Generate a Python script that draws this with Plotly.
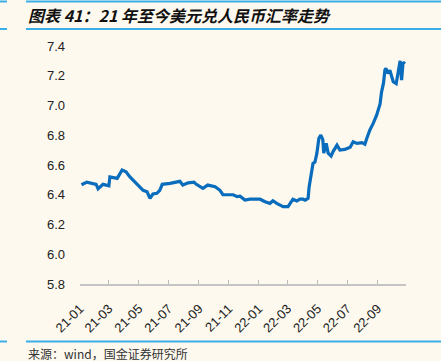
import plotly.graph_objects as go

dates = [
    "2021-01-04", "2021-01-15", "2021-02-03", "2021-02-07", "2021-02-17", "2021-03-01",
    "2021-03-03", "2021-03-18", "2021-03-28", "2021-04-05", "2021-04-13", "2021-04-23",
    "2021-05-04", "2021-05-10", "2021-05-18", "2021-05-24", "2021-05-30", "2021-06-07",
    "2021-06-13", "2021-06-18", "2021-07-04", "2021-07-24", "2021-07-30", "2021-08-10",
    "2021-08-22", "2021-08-26", "2021-09-09", "2021-09-19", "2021-10-04", "2021-10-14",
    "2021-10-20", "2021-10-28", "2021-11-10", "2021-11-18", "2021-11-24", "2021-12-04",
    "2021-12-14", "2021-12-29", "2022-01-04", "2022-01-14", "2022-01-24", "2022-01-30",
    "2022-02-07", "2022-02-20", "2022-03-02", "2022-03-12", "2022-03-20", "2022-03-26",
    "2022-04-02", "2022-04-06", "2022-04-12", "2022-04-14", "2022-04-18", "2022-04-22",
    "2022-04-26", "2022-04-30", "2022-05-04", "2022-05-08", "2022-05-12", "2022-05-14",
    "2022-05-19", "2022-05-23", "2022-05-29", "2022-06-02", "2022-06-10", "2022-06-16",
    "2022-06-26", "2022-07-07", "2022-07-13", "2022-07-21", "2022-07-31", "2022-08-06",
    "2022-08-10", "2022-08-16", "2022-08-23", "2022-08-30", "2022-09-06", "2022-09-09",
    "2022-09-13", "2022-09-16", "2022-09-18", "2022-09-22", "2022-09-26", "2022-10-03",
    "2022-10-09", "2022-10-11", "2022-10-17", "2022-10-20", "2022-10-23", "2022-10-27",
]
usdcny = [
    6.467, 6.485, 6.470, 6.440, 6.470, 6.460,
    6.520, 6.510, 6.566, 6.555, 6.520, 6.487,
    6.454, 6.430, 6.420, 6.376, 6.405, 6.410,
    6.430, 6.470, 6.476, 6.490, 6.465, 6.480,
    6.485, 6.472, 6.443, 6.465, 6.454, 6.430,
    6.400, 6.400, 6.400, 6.387, 6.390, 6.364,
    6.370, 6.370, 6.370, 6.353, 6.342, 6.360,
    6.342, 6.320, 6.320, 6.370, 6.358, 6.370,
    6.370, 6.364, 6.376, 6.450, 6.540, 6.610,
    6.620, 6.680, 6.780, 6.800, 6.770, 6.680,
    6.745, 6.680, 6.660, 6.690, 6.734, 6.700,
    6.705, 6.720, 6.756, 6.745, 6.750, 6.740,
    6.780, 6.834, 6.880, 6.935, 7.010, 7.090,
    7.150, 7.240, 7.250, 7.215, 7.237, 7.160,
    7.147, 7.180, 7.300, 7.170, 7.290, 7.280,
]

tick_vals = ["2021-01-01", "2021-03-01", "2021-05-01", "2021-07-01", "2021-09-01", "2021-11-01",
             "2022-01-01", "2022-03-01", "2022-05-01", "2022-07-01", "2022-09-01"]
tick_text = ["21-01", "21-03", "21-05", "21-07", "21-09", "21-11",
             "22-01", "22-03", "22-05", "22-07", "22-09"]
y_ticks = [5.8, 6.0, 6.2, 6.4, 6.6, 6.8, 7.0, 7.2, 7.4]

W, H = 441, 361
L, R, T, B = 80, 35, 46, 77
PW, PH = W - L - R, H - T - B


def px(x):
    return (x - L) / PW


def py(y):
    return (H - B - y) / PH


fig = go.Figure()
fig.add_trace(go.Scatter(x=dates, y=usdcny, mode="lines",
                         line=dict(color="#0a6cbc", width=3.2), hoverinfo="skip"))

bg = "#fdf9ee"
shapes = []
for yy in [1.5, 29, 341.5]:
    for x0, x1 in [(0, 7), (26, 441)]:
        shapes.append(dict(type="line", xref="paper", yref="paper",
                           x0=px(x0), x1=px(x1), y0=py(yy), y1=py(yy),
                           line=dict(color="#3aaee8", width=2)))

fig.update_layout(
    width=W, height=H,
    margin=dict(l=L, r=R, t=T, b=B, autoexpand=False),
    paper_bgcolor=bg, plot_bgcolor=bg,
    showlegend=False,
    shapes=shapes,
    font=dict(family="Liberation Sans, Arial, sans-serif", color="#222"),
    annotations=[
        dict(text="<b><i>图表 41：21 年至今美元兑人民币汇率走势</i></b>",
             xref="paper", yref="paper", x=px(26), y=py(15), xanchor="left", yanchor="middle",
             showarrow=False, font=dict(size=16, color="#111",
                                        family="Noto Sans CJK SC, Liberation Sans, sans-serif")),
        dict(text="来源：wind，国金证券研究所",
             xref="paper", yref="paper", x=px(26), y=py(353), xanchor="left", yanchor="middle",
             showarrow=False, font=dict(size=12, color="#333",
                                        family="Noto Sans CJK SC, Liberation Sans, sans-serif")),
    ],
)
fig.update_xaxes(
    type="date", range=["2021-01-01", "2022-10-29"], automargin=False,
    tickmode="array", tickvals=tick_vals, ticktext=tick_text, tickangle=-45,
    ticks="inside", ticklen=4, tickcolor="#bbbbbb", tickwidth=1,
    showline=True, linecolor="#c4c4c4", linewidth=2, ticklabelstandoff=10,
    showgrid=False, zeroline=False, tickfont=dict(size=13, color="#222"),
)
fig.update_yaxes(
    range=[5.8, 7.4], tickvals=y_ticks, tickformat=".1f", automargin=False,
    showline=False, showgrid=False, zeroline=False, ticks="",
    ticklabelstandoff=14, tickfont=dict(size=13, color="#222"),
)
fig.write_html("out.html", config={"displayModeBar": False},
               post_script="document.body.style.margin='0';document.body.style.background='%s';" % bg)
